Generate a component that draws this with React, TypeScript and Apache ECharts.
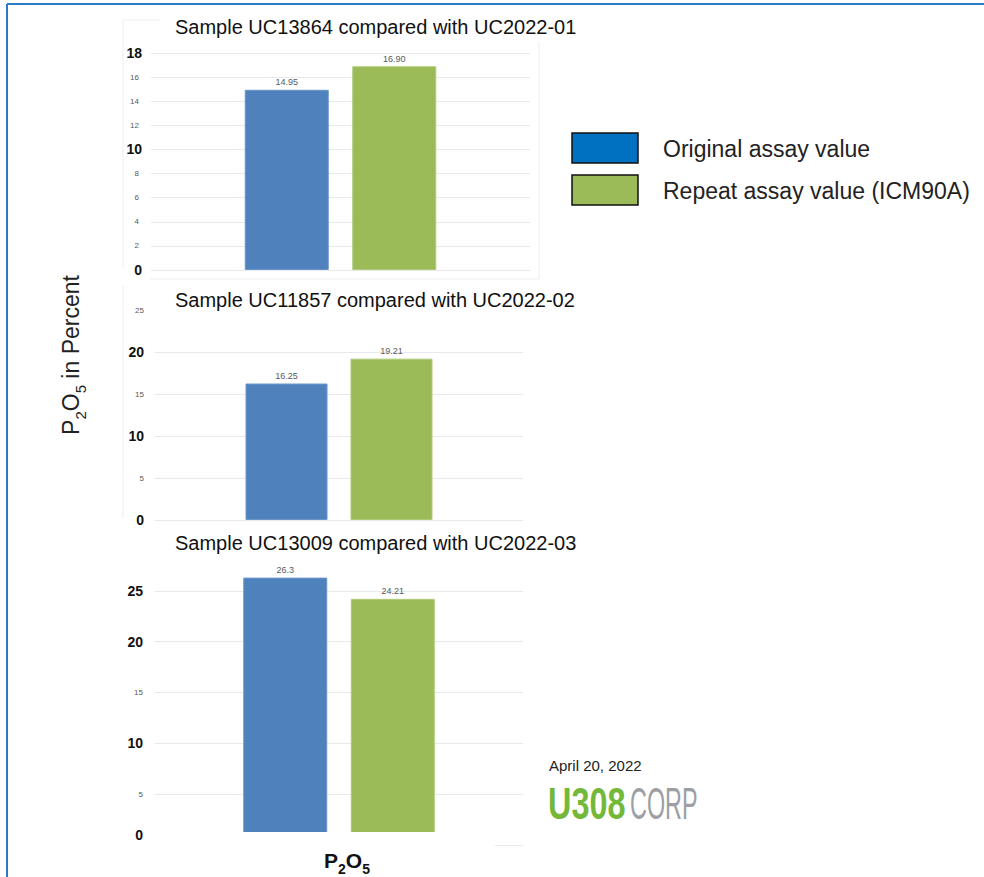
import React, { useEffect, useRef } from "react";
import * as echarts from "echarts";

const categories = ["P2O5"];
const chartTitles = [
  "Sample UC13864 compared with UC2022-01",
  "Sample UC11857 compared with UC2022-02",
  "Sample UC13009 compared with UC2022-03",
];
const originalValues = [14.95, 16.25, 26.3];
const repeatValues = [16.9, 19.21, 24.21];
const originalLabels = ["14.95", "16.25", "26.3"];
const repeatLabels = ["16.90", "19.21", "24.21"];
const yMax = [18, 25, 30];
const yInterval = [2, 5, 5];
const boldTicks = [
  [0, 10, 18],
  [0, 10, 20],
  [10, 20, 25],
];
const hiddenTicks = [[], [], [0, 30]];
const legendNames = ["Original assay value", "Repeat assay value (ICM90A)"];
const dateText = "April 20, 2022";

const FONT = "Liberation Sans, Arial, sans-serif";
const GRID = "#e9e9e9";

export default function App() {
  const ref = useRef<HTMLDivElement>(null);
  useEffect(() => {
    if (!ref.current) return;
    const chart = echarts.init(ref.current, null, { renderer: "svg" });

    const grids = [
      { left: 151, top: 53, width: 379, height: 217 },
      { left: 155, top: 310, width: 368, height: 210 },
      { left: 155, top: 540, width: 368, height: 305 },
    ];
    const splitColors = [
      [GRID],
      [GRID, GRID, GRID, GRID, GRID, "rgba(0,0,0,0)"],
      [GRID, GRID, GRID, GRID, GRID, GRID, "rgba(0,0,0,0)"],
    ];
    const labelMargins = [9, 11, 12];
    const titleCenters = [27, 300, 543];

    const option: any = {
      animation: false,
      backgroundColor: "#ffffff",
      title: chartTitles.map((t, i) => ({
        text: t,
        left: 175,
        top: titleCenters[i] - 12,
        padding: 0,
        textStyle: {
          fontFamily: FONT,
          fontSize: 20,
          fontWeight: "normal",
          color: "#111",
          lineHeight: 24,
        },
      })),
      grid: grids.map((g) => ({ ...g, containLabel: false })),
      xAxis: grids.map((_, i) => ({
        type: "category",
        gridIndex: i,
        data: categories,
        show: false,
      })),
      yAxis: grids.map((_, i) => ({
        type: "value",
        gridIndex: i,
        min: 0,
        max: yMax[i],
        interval: yInterval[i],
        axisLine: { show: false },
        axisTick: { show: false },
        splitLine: { show: true, lineStyle: { color: splitColors[i], width: 1 } },
        axisLabel: {
          margin: labelMargins[i],
          fontFamily: FONT,
          formatter: (v: number) => {
            if (hiddenTicks[i].includes(v)) return "";
            return boldTicks[i].includes(v) ? `{b|${v}}` : `{s|${v}}`;
          },
          rich: {
            b: { fontSize: 14, fontWeight: "bold", color: "#111", fontFamily: FONT },
            s: { fontSize: 8, color: "#595959", fontFamily: FONT, padding: [0, i === 0 ? 3 : 0, 0, 0] },
          },
        },
      })),
      series: grids.flatMap((_, i) => [
        {
          type: "bar",
          name: legendNames[0],
          xAxisIndex: i,
          yAxisIndex: i,
          data: [originalValues[i]],
          barWidth: i === 1 ? 82 : 84,
          barGap: "28%",
          itemStyle: { color: "#4F81BD", borderColor: "#6C96C8", borderWidth: 1 },
          label: {
            show: true,
            position: "top",
            distance: 3,
            fontSize: 9,
            fontFamily: FONT,
            color: "#595959",
            formatter: () => originalLabels[i],
          },
        },
        {
          type: "bar",
          name: legendNames[1],
          xAxisIndex: i,
          yAxisIndex: i,
          data: [repeatValues[i]],
          barWidth: i === 1 ? 82 : 84,
          barGap: "28%",
          itemStyle: { color: "#9BBB59", borderColor: "#AECB78", borderWidth: 1 },
          label: {
            show: true,
            position: "top",
            distance: 3,
            fontSize: 9,
            fontFamily: FONT,
            color: "#595959",
            formatter: () => repeatLabels[i],
          },
        },
      ]),
      graphic: [
        // outer frame
        { type: "line", z: 100, shape: { x1: 7, y1: 4, x2: 984, y2: 4 }, style: { stroke: "#2A7BC6", lineWidth: 2 } },
        { type: "line", z: 100, shape: { x1: 7, y1: 4, x2: 7, y2: 877 }, style: { stroke: "#2A7BC6", lineWidth: 2 } },
        // faint collage frames
        { type: "line", z: 1, shape: { x1: 123, y1: 20, x2: 123, y2: 268 }, style: { stroke: "#eeeeee", lineWidth: 1 } },
        { type: "line", z: 1, shape: { x1: 123, y1: 20, x2: 160, y2: 20 }, style: { stroke: "#eeeeee", lineWidth: 1 } },
        { type: "line", z: 1, shape: { x1: 539, y1: 42, x2: 539, y2: 279 }, style: { stroke: "#eeeeee", lineWidth: 1 } },
        { type: "line", z: 1, shape: { x1: 150, y1: 279, x2: 539, y2: 279 }, style: { stroke: "#eeeeee", lineWidth: 1 } },
        { type: "line", z: 1, shape: { x1: 123, y1: 286, x2: 123, y2: 518 }, style: { stroke: "#eeeeee", lineWidth: 1 } },
        // bottom chart cover and zero label
        { type: "rect", z: 100, shape: { x: 150, y: 832, width: 345, height: 15 }, style: { fill: "#ffffff" } },
        {
          type: "text",
          z: 100,
          x: 143,
          y: 835,
          style: { text: "0", fontFamily: FONT, fontSize: 14, fontWeight: "bold", fill: "#111", align: "right", verticalAlign: "middle" },
        },
        // y axis name
        {
          type: "text",
          z: 100,
          x: 67,
          y: 355,
          rotation: Math.PI / 2,
          style: {
            text: "{n|P}{s|2}{n|O}{s|5}{n| in Percent}",
            align: "center",
            verticalAlign: "middle",
            fill: "#222",
            rich: {
              n: { fontFamily: FONT, fontSize: 23, fill: "#222", lineHeight: 30, verticalAlign: "bottom" },
              s: { fontFamily: FONT, fontSize: 15, fill: "#222", lineHeight: 30, verticalAlign: "bottom", padding: [0, 0, -6, 0] },
            },
          },
        },
        // x axis label
        {
          type: "text",
          z: 100,
          x: 347,
          y: 858,
          style: {
            text: "{n|P}{s|2}{n|O}{s|5}",
            align: "center",
            verticalAlign: "middle",
            fill: "#111",
            rich: {
              n: { fontFamily: FONT, fontSize: 21, fontWeight: "bold", fill: "#111", lineHeight: 26, verticalAlign: "bottom" },
              s: { fontFamily: FONT, fontSize: 14, fontWeight: "bold", fill: "#111", lineHeight: 26, verticalAlign: "bottom", padding: [0, 0, -5, 0] },
            },
          },
        },
        // legend
        { type: "rect", z: 100, shape: { x: 572, y: 133, width: 66, height: 30 }, style: { fill: "#0070C0", stroke: "#111", lineWidth: 1.5 } },
        { type: "rect", z: 100, shape: { x: 572, y: 175, width: 66, height: 30 }, style: { fill: "#9BBB59", stroke: "#111", lineWidth: 1.5 } },
        {
          type: "text",
          z: 100,
          x: 663,
          y: 149,
          style: { text: legendNames[0], fontFamily: FONT, fontSize: 23, fill: "#222", verticalAlign: "middle" },
        },
        {
          type: "text",
          z: 100,
          x: 663,
          y: 191,
          style: { text: legendNames[1], fontFamily: FONT, fontSize: 23, fill: "#222", verticalAlign: "middle" },
        },
        // date and logo
        {
          type: "text",
          z: 100,
          x: 549,
          y: 765,
          style: { text: dateText, fontFamily: FONT, fontSize: 15, fill: "#222", verticalAlign: "middle" },
        },
        {
          type: "text",
          z: 100,
          x: 548,
          y: 804,
          scaleX: 0.72,
          style: {
            text: "U308",
            fontFamily: FONT,
            fontSize: 45,
            fontWeight: "bold",
            verticalAlign: "middle",
            fill: "#74B83A",
          },
        },
        {
          type: "text",
          z: 100,
          x: 630,
          y: 804,
          scaleX: 0.52,
          style: { text: "CORP", fontFamily: FONT, fontSize: 45, fill: "#9C9FA3", verticalAlign: "middle" },
        },
      ],
    };
    chart.setOption(option);
    return () => chart.dispose();
  }, []);
  return (
    <div
      ref={ref}
      style={{ position: "absolute", left: 0, top: 0, width: 984, height: 877, background: "#fff" }}
    />
  );
}
